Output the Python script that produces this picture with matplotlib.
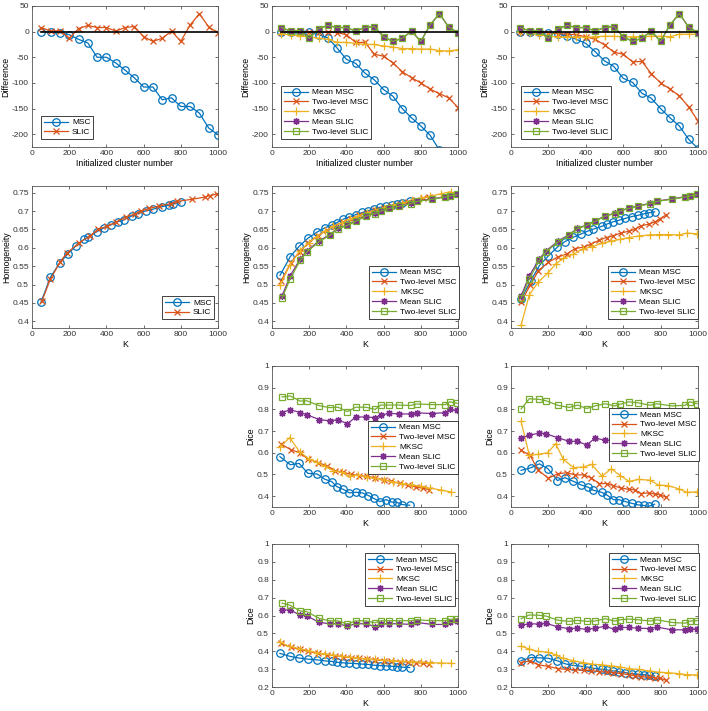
import matplotlib
matplotlib.use("Agg")
import matplotlib.pyplot as plt
from matplotlib.ticker import FuncFormatter

plt.rcParams['font.family'] = ['Liberation Sans', 'DejaVu Sans']

# ---------------- data ----------------
# Row 1: difference vs initialized cluster number
init_k = [50, 100, 150, 200, 250, 300, 350, 400, 450, 500, 550, 600, 650, 700, 750, 800, 850, 900, 950, 1000]
zero_x = [50, 1000]
zero_y = [0, 0]
d1_msc = [0, 0, -2, -6, -15, -22, -50, -50, -61, -75, -90, -108, -108, -133, -129, -146, -146, -159, -188, -201]
d_slic = [8, 1, 2, -13, 6, 12, 8, 8, 1, 8, 10, -10, -19, -13, 1, -19, 13, 35, 9, -2]
d2_mean_msc = [-1, 0, 0, -1, -6, -12, -32, -54, -62, -81, -94, -113, -126, -150, -168, -184, -202, -231, -258, -285]
d2_two_msc = [0, 0, 0, 0, -1, -1, -2, -6, -21, -21, -44, -48, -61, -78, -90, -100, -112, -121, -129, -148]
d2_mksc = [-4, -6, -8, -10, -13, -15, -21, -21, -23, -25, -25, -28, -30, -33, -33, -34, -34, -37, -38, -35]
d3_mean_msc = [-1, 0, -1, -2, -4, -8, -15, -23, -39, -57, -68, -91, -99, -120, -130, -150, -168, -184, -210, -228]
d3_two_msc = [0, 0, -1, -2, -4, -5, -6, -10, -15, -26, -40, -44, -59, -58, -82, -100, -112, -125, -147, -174]
d3_mksc = [-1, -2, -6, -8, -11, -10, -10, -11, -10, -9, -9, -10, -10, -10, -9, -9, -10, -5, -5, -5]

# K values (actual superpixel numbers)
k1_msc = [48, 99, 149, 194, 235, 280, 301, 349, 387, 423, 462, 493, 539, 568, 615, 651, 701, 737, 758, 799]
k_slic = [54, 98, 152, 186, 254, 311, 355, 405, 450, 504, 555, 585, 630, 681, 745, 779, 861, 932, 955, 996]
k2_mean_msc = [43, 98, 146, 193, 243, 284, 321, 348, 384, 416, 450, 486, 518, 546, 580, 614, 643, 670, 700, 740]
k2_two_msc = [48, 102, 148, 193, 245, 296, 339, 380, 423, 470, 510, 555, 600, 640, 686, 730, 775, 812, 845]
k2_mksc = [43, 95, 148, 198, 240, 285, 330, 375, 420, 465, 510, 555, 600, 650, 700, 750, 800, 850, 910, 964]
k3_mean_msc = [54, 107, 152, 198, 248, 289, 334, 377, 413, 441, 484, 511, 548, 577, 612, 646, 677, 709, 736, 768]
k3_two_msc = [54, 102, 146, 200, 250, 298, 343, 388, 427, 473, 511, 548, 588, 629, 661, 696, 736, 771, 798, 830]
k3_mksc = [54, 98, 146, 196, 239, 280, 334, 384, 432, 486, 536, 584, 632, 682, 741, 789, 838, 896, 941, 996]

# Row 2: homogeneity
h1_msc = [0.452, 0.520, 0.559, 0.584, 0.605, 0.623, 0.629, 0.644, 0.654, 0.662, 0.671, 0.676, 0.687, 0.693, 0.701, 0.705, 0.712, 0.716, 0.720, 0.725]
h1_slic = [0.456, 0.514, 0.562, 0.585, 0.614, 0.632, 0.650, 0.659, 0.669, 0.684, 0.692, 0.700, 0.707, 0.713, 0.720, 0.726, 0.732, 0.738, 0.742, 0.746]
h_mean_slic = [0.469, 0.524, 0.570, 0.591, 0.619, 0.636, 0.653, 0.662, 0.673, 0.687, 0.694, 0.701, 0.708, 0.714, 0.721, 0.727, 0.733, 0.739, 0.742, 0.746]
h_two_slic = [0.463, 0.516, 0.566, 0.588, 0.617, 0.634, 0.652, 0.661, 0.672, 0.686, 0.693, 0.700, 0.707, 0.713, 0.720, 0.726, 0.732, 0.738, 0.741, 0.745]
h2_mean_msc = [0.525, 0.576, 0.604, 0.626, 0.643, 0.654, 0.662, 0.668, 0.678, 0.684, 0.690, 0.696, 0.701, 0.705, 0.710, 0.713, 0.716, 0.720, 0.723, 0.727]
h2_two_msc = [0.509, 0.560, 0.589, 0.612, 0.633, 0.648, 0.660, 0.670, 0.679, 0.688, 0.695, 0.702, 0.708, 0.713, 0.719, 0.724, 0.730, 0.735, 0.739]
h2_mksc = [0.498, 0.552, 0.591, 0.614, 0.630, 0.645, 0.658, 0.668, 0.678, 0.687, 0.695, 0.702, 0.709, 0.716, 0.722, 0.729, 0.735, 0.740, 0.747, 0.753]
h3_mean_msc = [0.461, 0.511, 0.552, 0.577, 0.602, 0.617, 0.629, 0.638, 0.646, 0.651, 0.658, 0.664, 0.671, 0.675, 0.680, 0.685, 0.688, 0.692, 0.695, 0.698]
h3_two_msc = [0.452, 0.498, 0.537, 0.561, 0.575, 0.583, 0.598, 0.602, 0.610, 0.621, 0.628, 0.633, 0.640, 0.645, 0.650, 0.660, 0.664, 0.671, 0.679, 0.690]
h3_mksc = [0.390, 0.472, 0.507, 0.531, 0.556, 0.571, 0.583, 0.597, 0.603, 0.612, 0.618, 0.623, 0.628, 0.632, 0.635, 0.636, 0.636, 0.635, 0.640, 0.638]

# Row 3: Dice
c2_mean_msc = [0.582, 0.545, 0.551, 0.505, 0.502, 0.478, 0.467, 0.444, 0.431, 0.415, 0.418, 0.415, 0.403, 0.390, 0.375, 0.384, 0.373, 0.372, 0.361, 0.358]
c2_two_msc = [0.640, 0.614, 0.600, 0.572, 0.555, 0.540, 0.518, 0.511, 0.501, 0.494, 0.492, 0.484, 0.475, 0.468, 0.459, 0.450, 0.442, 0.436, 0.430]
c2_mksc = [0.625, 0.670, 0.605, 0.572, 0.556, 0.537, 0.518, 0.510, 0.492, 0.498, 0.490, 0.482, 0.476, 0.466, 0.458, 0.452, 0.445, 0.437, 0.428, 0.419]
c2_mean_slic = [0.785, 0.799, 0.785, 0.776, 0.753, 0.747, 0.753, 0.733, 0.765, 0.765, 0.762, 0.773, 0.782, 0.779, 0.779, 0.784, 0.781, 0.785, 0.800, 0.795]
c2_two_slic = [0.857, 0.862, 0.838, 0.840, 0.817, 0.808, 0.810, 0.790, 0.810, 0.810, 0.800, 0.820, 0.820, 0.820, 0.818, 0.825, 0.822, 0.822, 0.835, 0.828]
c3_mean_msc = [0.519, 0.531, 0.549, 0.526, 0.472, 0.485, 0.468, 0.451, 0.441, 0.427, 0.418, 0.406, 0.384, 0.384, 0.375, 0.367, 0.360, 0.357, 0.353, 0.363]
c3_two_msc = [0.611, 0.588, 0.519, 0.483, 0.503, 0.508, 0.498, 0.498, 0.485, 0.458, 0.458, 0.449, 0.437, 0.432, 0.429, 0.412, 0.415, 0.409, 0.406, 0.395]
c3_mksc = [0.745, 0.588, 0.593, 0.600, 0.642, 0.569, 0.532, 0.534, 0.546, 0.492, 0.526, 0.495, 0.468, 0.477, 0.474, 0.451, 0.449, 0.434, 0.418, 0.420]
c3_mean_slic = [0.668, 0.681, 0.691, 0.688, 0.668, 0.653, 0.653, 0.636, 0.668, 0.657, 0.660, 0.665, 0.670, 0.668, 0.665, 0.660, 0.662, 0.665, 0.670, 0.657]
c3_two_slic = [0.802, 0.849, 0.846, 0.840, 0.818, 0.809, 0.820, 0.804, 0.816, 0.826, 0.816, 0.824, 0.835, 0.830, 0.819, 0.826, 0.816, 0.819, 0.835, 0.826]

# Row 4: Dice
e2_mean_msc = [0.388, 0.371, 0.362, 0.356, 0.352, 0.346, 0.343, 0.339, 0.335, 0.333, 0.331, 0.328, 0.326, 0.322, 0.320, 0.318, 0.316, 0.314, 0.311, 0.309]
e2_two_msc = [0.444, 0.422, 0.411, 0.399, 0.390, 0.380, 0.375, 0.369, 0.365, 0.360, 0.356, 0.352, 0.348, 0.345, 0.342, 0.339, 0.336, 0.334, 0.331]
e2_mksc = [0.450, 0.427, 0.414, 0.403, 0.392, 0.385, 0.378, 0.372, 0.366, 0.362, 0.358, 0.354, 0.350, 0.347, 0.344, 0.341, 0.338, 0.336, 0.334, 0.333]
e2_mean_slic = [0.631, 0.631, 0.601, 0.599, 0.561, 0.554, 0.554, 0.540, 0.554, 0.554, 0.537, 0.552, 0.554, 0.554, 0.550, 0.561, 0.550, 0.550, 0.561, 0.569]
e2_two_slic = [0.669, 0.657, 0.625, 0.622, 0.584, 0.570, 0.570, 0.552, 0.570, 0.570, 0.559, 0.571, 0.571, 0.571, 0.571, 0.576, 0.571, 0.571, 0.578, 0.582]
e3_mean_msc = [0.348, 0.365, 0.363, 0.361, 0.347, 0.330, 0.320, 0.316, 0.311, 0.305, 0.299, 0.296, 0.290, 0.286, 0.280, 0.275, 0.271, 0.269, 0.265, 0.262]
e3_two_msc = [0.337, 0.346, 0.324, 0.315, 0.303, 0.299, 0.296, 0.294, 0.292, 0.286, 0.284, 0.280, 0.275, 0.269, 0.263, 0.258, 0.254, 0.250, 0.249, 0.237]
e3_mksc = [0.429, 0.412, 0.399, 0.395, 0.380, 0.360, 0.347, 0.337, 0.328, 0.324, 0.318, 0.312, 0.303, 0.298, 0.290, 0.283, 0.280, 0.275, 0.269, 0.267]
e3_mean_slic = [0.546, 0.554, 0.552, 0.557, 0.535, 0.527, 0.529, 0.522, 0.529, 0.540, 0.522, 0.533, 0.533, 0.529, 0.527, 0.535, 0.520, 0.520, 0.527, 0.522]
e3_two_slic = [0.582, 0.603, 0.601, 0.597, 0.573, 0.567, 0.573, 0.567, 0.569, 0.582, 0.569, 0.576, 0.580, 0.576, 0.569, 0.576, 0.561, 0.557, 0.569, 0.571]

# ---------------- style ----------------
W, H = 708, 711
BLUE, ORANGE, YELLOW, PURPLE, GREEN = '#0072BD', '#D95319', '#EDB120', '#7E2F8E', '#77AC30'
STY = {
    'Mean MSC': dict(color=BLUE, marker='o', mfc='none', ms=5.4, mew=0.9),
    'MSC': dict(color=BLUE, marker='o', mfc='none', ms=5.4, mew=0.9),
    'Two-level MSC': dict(color=ORANGE, marker='x', ms=4.2, mew=0.9),
    'SLIC': dict(color=ORANGE, marker='x', ms=4.2, mew=0.9),
    'MKSC': dict(color=YELLOW, marker='+', ms=6, mew=0.9),
    'Mean SLIC': dict(color=PURPLE, marker=(8, 2, 0), ms=5, mew=0.9),
    'Two-level SLIC': dict(color=GREEN, marker='s', mfc='none', ms=4.6, mew=0.9),
}
FS = 6.0
fig = plt.figure(figsize=(W / 100, H / 100), dpi=100)

cols = [(32, 218), (272, 458), (511, 698)]
rows = [(6, 147), (186, 328), (366, 507), (544, 687)]


def make_ax(r, c):
    x0, x1 = cols[c]
    y0, y1 = rows[r]
    ax = fig.add_axes([x0 / W, 1 - y1 / H, (x1 - x0) / W, (y1 - y0) / H])
    for s in ax.spines.values():
        s.set_color('#555555')
        s.set_linewidth(0.6)
    ax.tick_params(direction='in', length=2.5, width=0.5, colors='#333333', labelsize=FS,
                   top=True, right=True, pad=2.2)
    ax.set_xlim(0, 1000)
    ax.set_xticks([0, 200, 400, 600, 800, 1000])
    ax.yaxis.set_major_formatter(FuncFormatter(lambda v, p: ('%g' % round(v, 4))))
    return ax


def plot(ax, x, y, key):
    ax.plot(x, y, label=key, lw=0.9, **STY[key])


def legend(ax, x, y):
    lg = ax.legend(loc='upper left', bbox_to_anchor=(x, y), borderaxespad=0, fontsize=FS,
                   frameon=True, fancybox=False, edgecolor='#222222', framealpha=1,
                   handlelength=2.9, handletextpad=0.5, borderpad=0.32, labelspacing=0.25)
    lg.get_frame().set_linewidth(0.6)


def labels(ax, xl, yl):
    ax.set_xlabel(xl, fontsize=FS + 0.3, labelpad=1.2)
    ax.set_ylabel(yl, fontsize=FS + 0.3, labelpad=1.0)


# Row 1
for c in range(3):
    ax = make_ax(0, c)
    ax.set_ylim(-225, 50)
    ax.set_yticks([-200, -150, -100, -50, 0, 50])
    if c == 0:
        plot(ax, init_k, d1_msc, 'MSC')
        plot(ax, init_k, d_slic, 'SLIC')
        legend(ax, 0.048, 0.22)
    else:
        mm = d2_mean_msc if c == 1 else d3_mean_msc
        tm = d2_two_msc if c == 1 else d3_two_msc
        mk = d2_mksc if c == 1 else d3_mksc
        plot(ax, init_k, mm, 'Mean MSC')
        plot(ax, init_k, tm, 'Two-level MSC')
        plot(ax, init_k, mk, 'MKSC')
        plot(ax, init_k, d_slic, 'Mean SLIC')
        plot(ax, init_k, d_slic, 'Two-level SLIC')
        legend(ax, 0.048 if c == 1 else 0.053, 0.433)
    ax.plot(zero_x, zero_y, color='black', lw=1.2, zorder=3)
    labels(ax, 'Initialized cluster number', 'Difference')

# Row 2
for c in range(3):
    ax = make_ax(1, c)
    ax.set_ylim(0.382, 0.768)
    ax.set_yticks([0.4, 0.45, 0.5, 0.55, 0.6, 0.65, 0.7, 0.75])
    if c == 0:
        plot(ax, k1_msc, h1_msc, 'MSC')
        plot(ax, k_slic, h1_slic, 'SLIC')
        legend(ax, 0.699, 0.225)
    elif c == 1:
        plot(ax, k2_mean_msc, h2_mean_msc, 'Mean MSC')
        plot(ax, k2_two_msc, h2_two_msc, 'Two-level MSC')
        plot(ax, k2_mksc, h2_mksc, 'MKSC')
        plot(ax, k_slic, h_mean_slic, 'Mean SLIC')
        plot(ax, k_slic, h_two_slic, 'Two-level SLIC')
        legend(ax, 0.522, 0.437)
    else:
        plot(ax, k3_mean_msc, h3_mean_msc, 'Mean MSC')
        plot(ax, k3_two_msc, h3_two_msc, 'Two-level MSC')
        plot(ax, k3_mksc, h3_mksc, 'MKSC')
        plot(ax, k_slic, h_mean_slic, 'Mean SLIC')
        plot(ax, k_slic, h_two_slic, 'Two-level SLIC')
        legend(ax, 0.519, 0.437)
    labels(ax, 'K', 'Homogeneity')

# Row 3
for c in (1, 2):
    ax = make_ax(2, c)
    ax.set_ylim(0.35, 1.0)
    ax.set_yticks([0.4, 0.5, 0.6, 0.7, 0.8, 0.9, 1.0])
    if c == 1:
        plot(ax, k2_mean_msc, c2_mean_msc, 'Mean MSC')
        plot(ax, k2_two_msc, c2_two_msc, 'Two-level MSC')
        plot(ax, k2_mksc, c2_mksc, 'MKSC')
        plot(ax, k_slic, c2_mean_slic, 'Mean SLIC')
        plot(ax, k_slic, c2_two_slic, 'Two-level SLIC')
        legend(ax, 0.516, 0.61)
    else:
        plot(ax, k3_mean_msc, c3_mean_msc, 'Mean MSC')
        plot(ax, k3_two_msc, c3_two_msc, 'Two-level MSC')
        plot(ax, k3_mksc, c3_mksc, 'MKSC')
        plot(ax, k_slic, c3_mean_slic, 'Mean SLIC')
        plot(ax, k_slic, c3_two_slic, 'Two-level SLIC')
        legend(ax, 0.524, 0.702)
    labels(ax, 'K', 'Dice')

# Row 4
for c in (1, 2):
    ax = make_ax(3, c)
    ax.set_ylim(0.2, 1.0)
    ax.set_yticks([0.2, 0.3, 0.4, 0.5, 0.6, 0.7, 0.8, 0.9, 1.0])
    if c == 1:
        plot(ax, k2_mean_msc, e2_mean_msc, 'Mean MSC')
        plot(ax, k2_two_msc, e2_two_msc, 'Two-level MSC')
        plot(ax, k2_mksc, e2_mksc, 'MKSC')
        plot(ax, k_slic, e2_mean_slic, 'Mean SLIC')
        plot(ax, k_slic, e2_two_slic, 'Two-level SLIC')
        legend(ax, 0.50, 0.937)
    else:
        plot(ax, k3_mean_msc, e3_mean_msc, 'Mean MSC')
        plot(ax, k3_two_msc, e3_two_msc, 'Two-level MSC')
        plot(ax, k3_mksc, e3_mksc, 'MKSC')
        plot(ax, k_slic, e3_mean_slic, 'Mean SLIC')
        plot(ax, k_slic, e3_two_slic, 'Two-level SLIC')
        legend(ax, 0.524, 0.937)
    labels(ax, 'K', 'Dice')

fig.savefig('out.png', dpi=100)
